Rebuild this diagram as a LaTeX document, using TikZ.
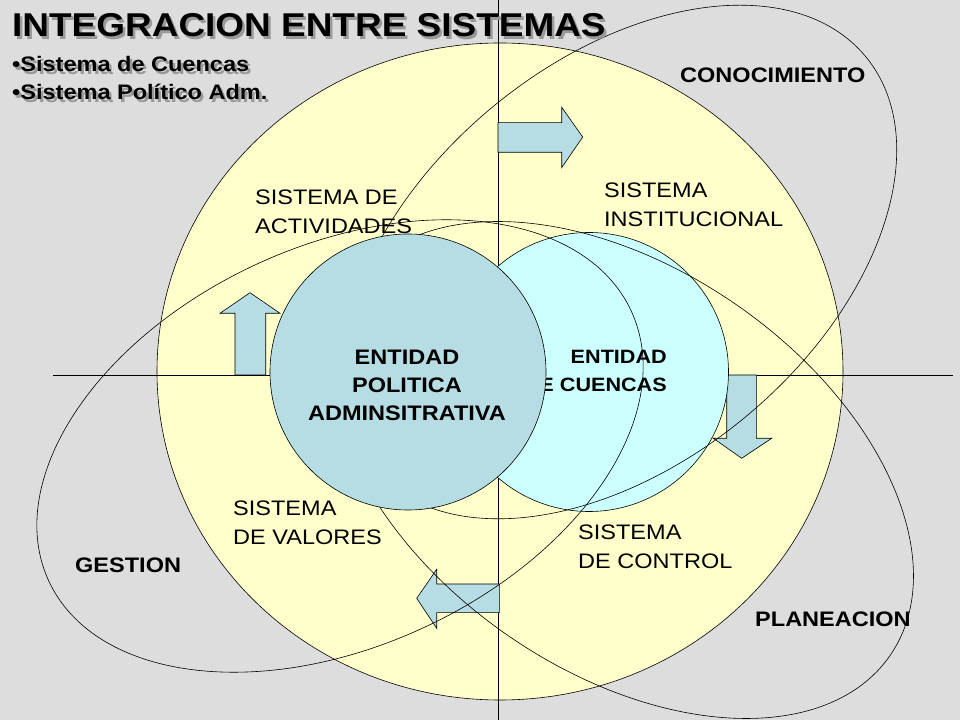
\documentclass[tikz,border=0pt]{standalone}
\usepackage{fontspec}
\setmainfont{Liberation Sans}[FakeStretch=1.12]

\definecolor{fondo}{RGB}{221,221,221}
\definecolor{amarillo}{RGB}{255,255,204}
\definecolor{cuenca}{RGB}{204,255,255}
\definecolor{politica}{RGB}{183,221,228}

\newcommand\sombra[1]{\makebox[0pt][l]{\hspace{2.5bp}\raisebox{-2.5bp}{\textcolor{black!40}{#1}}}#1}

\tikzset{
  linea/.style={draw=black, line width=0.6bp},
  flecha/.style={linea, fill=politica},
  rotulo/.style={inner sep=0pt, align=left, font=\fontsize{21bp}{28.5bp}\selectfont},
  rotulob/.style={inner sep=0pt, font=\fontsize{21bp}{28.5bp}\selectfont\bfseries},
  entidad/.style={inner sep=0pt, font=\fontsize{21bp}{28.3bp}\selectfont\bfseries}
}

\begin{document}
\begin{tikzpicture}[x=1bp,y=1bp]
           \useasboundingbox (0,0) rectangle (960,720);
           \fill[fondo] (0,0) rectangle (960,720);
           % circulo de los sistemas
           \draw[linea, fill=amarillo] (500,348.5) ellipse [x radius=343, y radius=328.5];
           % ejes
           \coordinate (ejearriba) at (498,720);
           \coordinate (ejeabajo) at (498,0);
           \coordinate (ejeizq) at (53,345);
           \coordinate (ejeder) at (953,345);
           \draw[linea] (ejearriba) -- (ejeabajo);
           \draw[linea] (ejeizq) -- (ejeder);
           % flechas
           \draw[flecha] (235,345) -- (235,406.7) -- (220,406.7) -- (250,427.3) -- (280,406.7) -- (265.7,406.7) -- (265.7,345) -- cycle;
           \draw[flecha] (498,597.3) -- (561.7,597.3) -- (561.7,612.7) -- (582.7,583) -- (561.7,552.3) -- (561.7,567.7) -- (498,567.7) -- cycle;
           \draw[flecha] (726.7,345) -- (726.7,281.7) -- (713.3,281.7) -- (741.7,261.7) -- (771.7,281.7) -- (756.3,281.7) -- (756.3,345) -- cycle;
           \draw[flecha] (499.3,136) -- (436.7,136) -- (436.7,150.7) -- (416.7,121.7) -- (436.7,91.7) -- (436.7,107.3) -- (499.3,107.3) -- cycle;
           % entidad de cuencas
           \node[circle, linea, fill=cuenca, minimum size=279bp, inner sep=0pt] (cuencas) at (589,348) {};
           \node[entidad, font=\fontsize{19.3bp}{28.3bp}\selectfont\bfseries, align=right, anchor=north east] (txtcuencas) at (667,370) {ENTIDAD\\DE CUENCAS};
           % conocimiento, gestion, planeacion
           \draw[linea, rotate around={39.9:(619,458)}] (619,458) ellipse [x radius=321, y radius=200];
           \draw[linea, rotate around={24.9:(340,274)}] (340,274) ellipse [x radius=321, y radius=200];
           \draw[linea, rotate around={-34.7:(622,250)}] (622,250) ellipse [x radius=326, y radius=201];
           % entidad politica
           \node[circle, linea, fill=politica, minimum size=276bp, inner sep=0pt] (politica) at (408,348) {};
           \node[entidad, align=center, anchor=north] (txtpolitica) at (407,370.5) {ENTIDAD\\POLITICA\\ADMINSITRATIVA};
           % titulo
           \node[anchor=base west, inner sep=0pt, font=\fontsize{33bp}{33bp}\selectfont\bfseries] (titulo) at (12,683) {\sombra{INTEGRACION ENTRE SISTEMAS}};
           \node[rotulob, anchor=base west] (item1) at (12,648.3) {\sombra{•Sistema de Cuencas}};
           \node[rotulob, anchor=base west] (item2) at (12,620) {\sombra{•Sistema Político Adm.}};
           % sistemas
           \node[rotulo, anchor=north west] (actividades) at (255,530.3) {SISTEMA DE\\ACTIVIDADES};
           \node[rotulo, anchor=north west] (institucional) at (604,537.3) {SISTEMA\\INSTITUCIONAL};
           \node[rotulo, anchor=north west] (valores) at (233,219.3) {SISTEMA\\DE VALORES};
           \node[rotulo, anchor=north west] (control) at (578,195.3) {SISTEMA\\DE CONTROL};
           \node[rotulob, anchor=base west] (conocimiento) at (680,637) {CONOCIMIENTO};
           \node[rotulob, anchor=base west] (gestion) at (75,147) {GESTION};
           \node[rotulob, anchor=base west] (planeacion) at (755,93) {PLANEACION};
        \end{tikzpicture}
\end{document}
